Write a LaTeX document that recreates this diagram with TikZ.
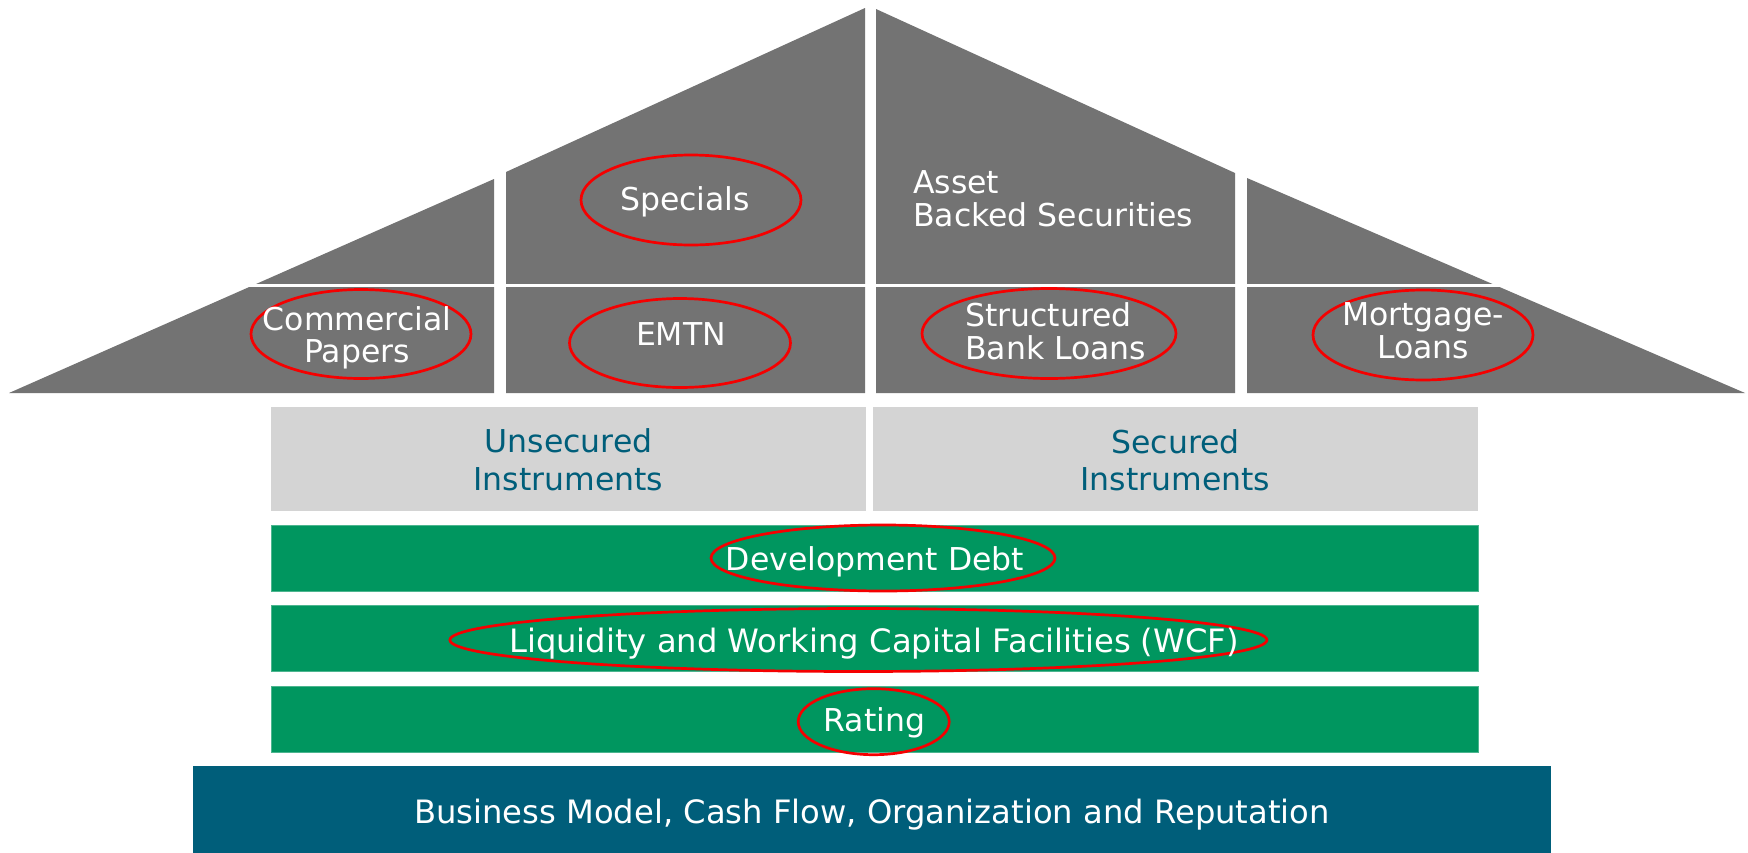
\documentclass[tikz,border=0pt]{standalone}
\usepackage{fontspec}
\setmainfont{DejaVu Sans}
\usetikzlibrary{shapes.geometric}
\definecolor{roofgray}{HTML}{737373}
\definecolor{edgegray}{HTML}{C4C4C4}
\definecolor{lightbox}{HTML}{D4D4D4}
\definecolor{bargreen}{HTML}{00965F}
\definecolor{baseteal}{HTML}{005E7A}
\definecolor{hlred}{HTML}{F50000}
\begin{document}
\begin{tikzpicture}[x=1pt,y=-1pt,
  roof/.style={fill=roofgray},
  graybox/.style={rectangle, fill=lightbox, draw=none, inner sep=0},
  greenbar/.style={rectangle, fill=bargreen, draw=bargreen!70!white, line width=0.6, inner sep=0, minimum width=1207, minimum height=66},
  basebox/.style={rectangle, fill=baseteal, draw=none, inner sep=0},
  wtext/.style={text=white, inner sep=0, font=\fontsize{31.5}{32.5}\selectfont},
  wwide/.style={text=white, inner sep=0, font=\fontsize{32.2}{33}\selectfont},
  ttext/.style={text=baseteal, inner sep=0, font=\fontsize{31.5}{37.5}\selectfont},
  hl/.style={ellipse, draw=hlred, line width=2.7, inner sep=0}
]
\useasboundingbox (0,0) rectangle (1748,852);

% roof panels
\fill[roof] (9,393) -- (494,179) -- (494,393) -- cycle;
\fill[roof] (506,172) -- (865,8) -- (865,393) -- (506,393) -- cycle;
\fill[roof] (876,9) -- (1235,173) -- (1235,393) -- (876,393) -- cycle;
\fill[roof] (1247,178) -- (1745,393) -- (1247,393) -- cycle;
\draw[white, line width=2.8] (0,285.5) -- (1748,285.5);

% instrument boxes
\node[graybox, minimum width=595, minimum height=104] (unsec) at (568.5,459) {};
\node[graybox, minimum width=605, minimum height=104] (sec) at (1175.5,459) {};

% green bars
\node[greenbar] (dev) at (874.5,558) {};
\node[greenbar] (liq) at (874.5,638.5) {};
\node[greenbar] (rat) at (874.5,719.2) {};

% base
\node[basebox, minimum width=1358, minimum height=87] (base) at (872,809.5) {};

% highlight ellipses
\node[hl, minimum width=220, minimum height=89] (hCP) at (361,334) {};
\node[hl, minimum width=220, minimum height=90] (hSp) at (691,200) {};
\node[hl, minimum width=221, minimum height=89] (hEM) at (680,343) {};
\node[hl, minimum width=254, minimum height=90] (hSB) at (1049,333.5) {};
\node[hl, minimum width=220, minimum height=90] (hML) at (1423,335) {};
\node[hl, minimum width=344, minimum height=66] (hDev) at (883,558) {};
\node[hl, minimum width=817, minimum height=63] (hLiq) at (858.4,640) {};
\node[hl, minimum width=151, minimum height=66] (hRat) at (873.7,721.7) {};

% roof texts (anchor=base is the last line's baseline)
\node[wtext, align=center, anchor=base] (tCP) at (357,362.7) {Commercial\\Papers};
\node[wtext, anchor=base] (tSp) at (685,210.7) {Specials};
\node[wtext, align=left, anchor=base west] (tABS) at (913,226) {Asset\\Backed Securities};
\node[wtext, anchor=base] (tEM) at (681,345) {EMTN};
\node[wtext, align=left, anchor=base west] (tSB) at (965,359.3) {Structured\\Bank Loans};
\node[wtext, align=center, anchor=base] (tML) at (1423,358) {Mortgage-\\Loans};

% box texts
\node[ttext, align=center, anchor=base] (tUn) at (568.5,490) {Unsecured\\Instruments};
\node[ttext, align=center, anchor=base] (tSe) at (1175.5,490.7) {Secured\\Instruments};
\node[wtext, anchor=base] (tDev) at (875,570) {Development Debt};
\node[wwide, anchor=base] (tLiq) at (874,652.3) {Liquidity and Working Capital Facilities (WCF)};
\node[wtext, anchor=base] (tRat) at (874.5,731.7) {Rating};
\node[wwide, anchor=base] (tBase) at (872,823) {Business Model, Cash Flow, Organization and Reputation};
\end{tikzpicture}
\end{document}
